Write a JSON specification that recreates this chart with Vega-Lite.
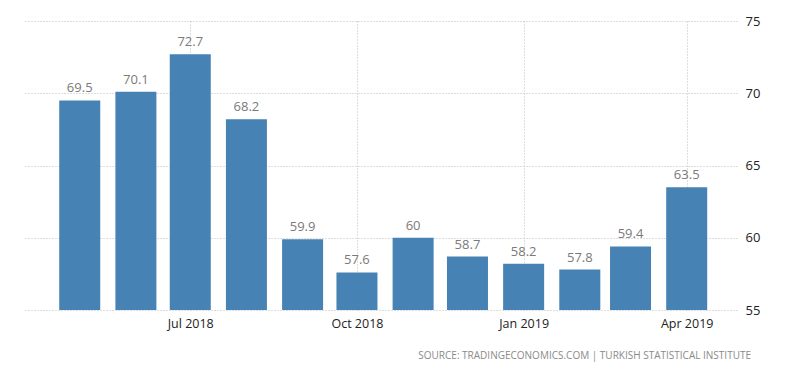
{
  "$schema": "https://vega.github.io/schema/vega-lite/v6.json",
  "width": 713,
  "height": 289,
  "autosize": "none",
  "padding": {"left": 24, "top": 21, "right": 63, "bottom": 63},
  "background": "white",
  "config": {
    "view": {"stroke": null},
    "font": "Open Sans"
  },
  "title": {
    "text": "SOURCE:  TRADINGECONOMICS.COM   |   TURKISH  STATISTICAL  INSTITUTE",
    "orient": "bottom",
    "anchor": "end",
    "frame": "group",
    "fontSize": 10,
    "fontWeight": "normal",
    "color": "#8a8a8a",
    "offset": 21,
    "dx": 14
  },
  "data": {
    "values": [
      {"date": "2018-05-01", "value": 69.5},
      {"date": "2018-06-01", "value": 70.1},
      {"date": "2018-07-01", "value": 72.7},
      {"date": "2018-08-01", "value": 68.2},
      {"date": "2018-09-01", "value": 59.9},
      {"date": "2018-10-01", "value": 57.6},
      {"date": "2018-11-01", "value": 60},
      {"date": "2018-12-01", "value": 58.7},
      {"date": "2019-01-01", "value": 58.2},
      {"date": "2019-02-01", "value": 57.8},
      {"date": "2019-03-01", "value": 59.4},
      {"date": "2019-04-01", "value": 63.5}
    ]
  },
  "encoding": {
    "x": {
      "field": "date",
      "type": "temporal",
      "title": null,
      "scale": {
        "type": "utc",
        "domain": [
          {"year": 2018, "month": 4, "date": 3, "utc": true},
          {"year": 2019, "month": 4, "date": 26, "utc": true}
        ]
      },
      "axis": {
        "values": [
          {"year": 2018, "month": 7, "date": 1, "utc": true},
          {"year": 2018, "month": 10, "date": 1, "utc": true},
          {"year": 2019, "month": 1, "date": 1, "utc": true},
          {"year": 2019, "month": 4, "date": 1, "utc": true}
        ],
        "format": "%b %Y",
        "domain": false,
        "ticks": false,
        "grid": true,
        "gridColor": "#bdbdbd",
        "gridDash": [1, 2],
        "gridWidth": 1,
        "labelColor": "#222222",
        "labelFontSize": 12.5,
        "labelPadding": 7
      }
    },
    "y": {
      "field": "value",
      "type": "quantitative",
      "title": null,
      "scale": {"domain": [55, 75], "zero": false, "nice": false},
      "axis": {
        "orient": "right",
        "values": [55, 60, 65, 70, 75],
        "domain": false,
        "ticks": false,
        "grid": true,
        "gridColor": "#bdbdbd",
        "gridDash": [1, 2],
        "gridWidth": 1,
        "labelColor": "#222222",
        "labelFontSize": 13,
        "labelPadding": 8
      }
    }
  },
  "layer": [
    {
      "mark": {"type": "bar", "size": 41, "color": "#4682b4", "clip": true},
      "encoding": {"y2": {"datum": 55}}
    },
    {
      "mark": {"type": "text", "baseline": "bottom", "dy": -5, "fontSize": 13, "color": "#7a7a7a"},
      "encoding": {"text": {"field": "value", "type": "quantitative"}}
    }
  ]
}
